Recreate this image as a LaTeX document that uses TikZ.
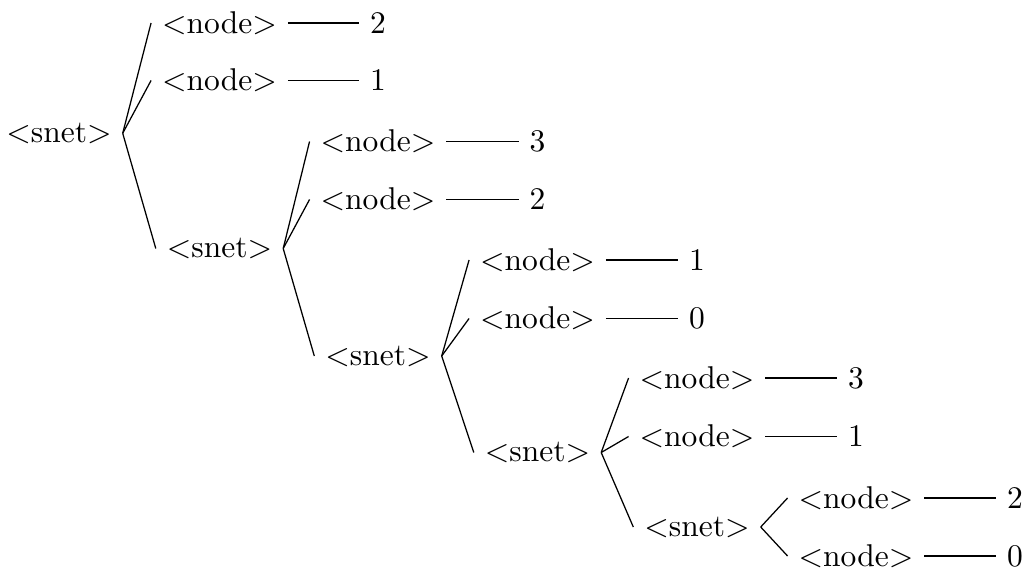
\documentclass[tikz,border=0pt]{standalone}
\usepackage{tikz}

\tikzset{
  tok/.style={inner sep=.3333em},
  link/.style={draw=black, line width=0.4pt},
}

\begin{document}
\begin{tikzpicture}[x=0.3175pt, y=-0.3175pt]
\useasboundingbox (0,0) rectangle (1029,570);

% nonterminals and leaves
\node[tok] (r)  at (59,133.3)   {$<$snet$>$};

\node[tok] (a1) at (219.5,23)   {$<$node$>$};
\node[tok] (a2) at (219.5,80.5) {$<$node$>$};
\node[tok] (s2) at (219.5,248.5){$<$snet$>$};

\node[tok] (b1) at (378,141.5)  {$<$node$>$};
\node[tok] (b2) at (378,199.5)  {$<$node$>$};
\node[tok] (s3) at (378,356)    {$<$snet$>$};

\node[tok] (c1) at (537.5,260)  {$<$node$>$};
\node[tok] (c2) at (537.5,318.5){$<$node$>$};
\node[tok] (s4) at (537.5,452.5){$<$snet$>$};

\node[tok] (d1) at (697,378)    {$<$node$>$};
\node[tok] (d2) at (697,436.5)  {$<$node$>$};
\node[tok] (s5) at (697,527)    {$<$snet$>$};

\node[tok] (e1) at (856,498)    {$<$node$>$};
\node[tok] (e2) at (856,556)    {$<$node$>$};

% node values
\node[tok] (va1) at (378,23)     {2};
\node[tok] (va2) at (378,80.5)   {1};
\node[tok] (vb1) at (537.5,141.5){3};
\node[tok] (vb2) at (537.5,199.5){2};
\node[tok] (vc1) at (697,260)    {1};
\node[tok] (vc2) at (697,318.5)  {0};
\node[tok] (vd1) at (856,378)    {3};
\node[tok] (vd2) at (856,436.5)  {1};
\node[tok] (ve1) at (1015,498)   {2};
\node[tok] (ve2) at (1015,556)   {0};

% tree edges
\foreach \p/\c in {r/a1, r/a2, r/s2,
                   s2/b1, s2/b2, s2/s3,
                   s3/c1, s3/c2, s3/s4,
                   s4/d1, s4/d2, s4/s5,
                   s5/e1, s5/e2}
  \path[link] (\p.east) -- (\c.west);

% value links
\foreach \n in {a1, a2, b1, b2, c1, c2, d1, d2, e1, e2}
  \path[link] (\n.east) -- (v\n.west);
\end{tikzpicture}
\end{document}
